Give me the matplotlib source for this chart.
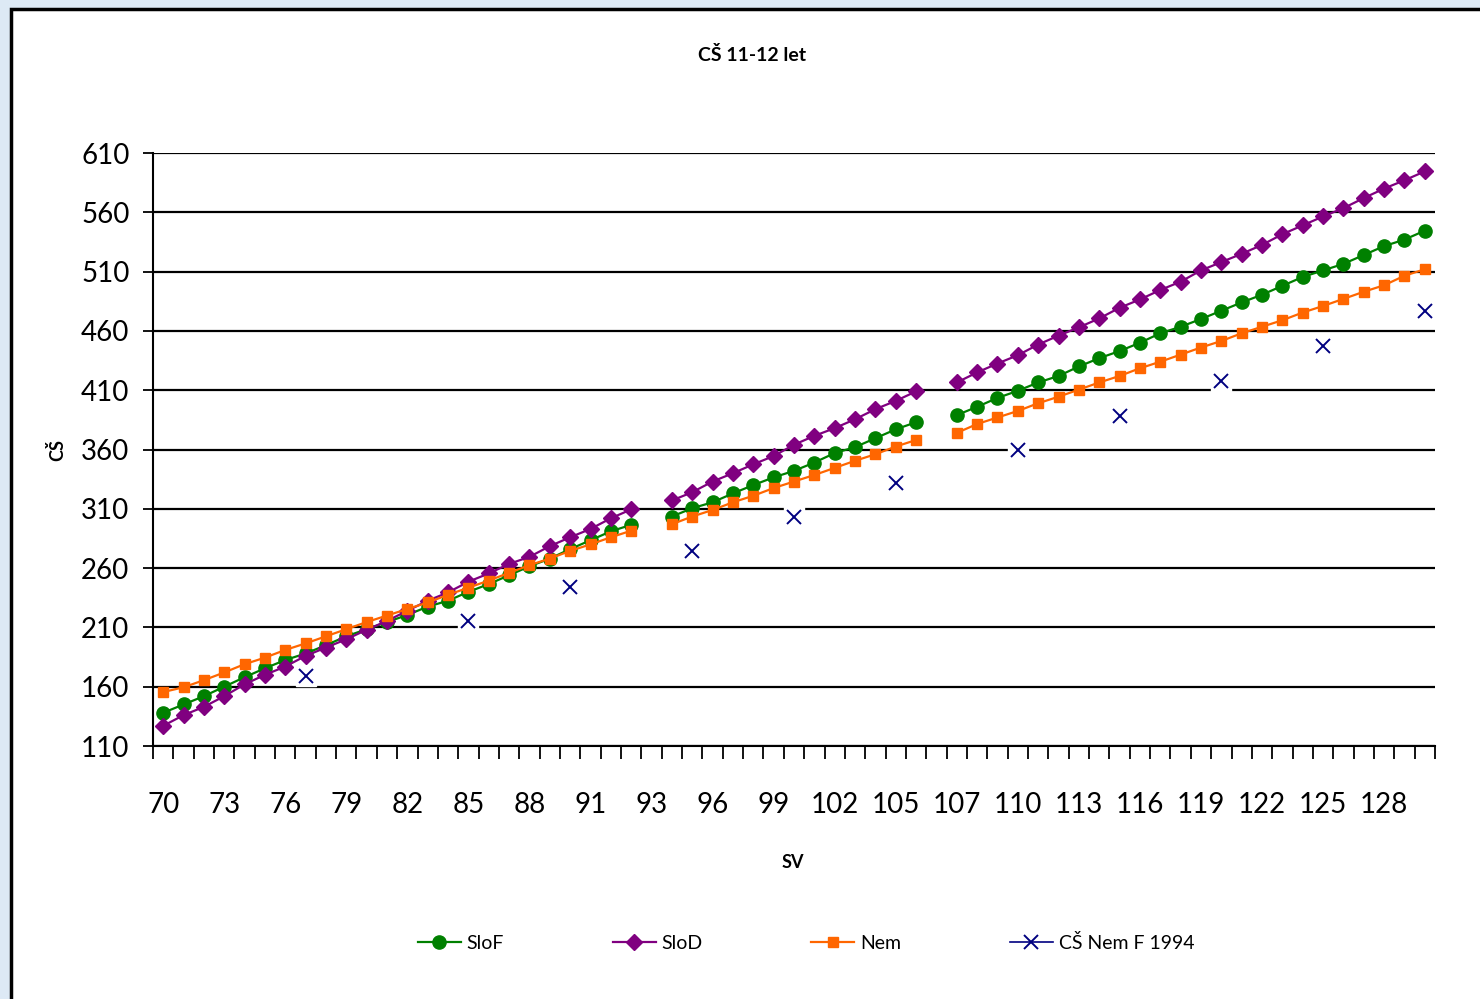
import numpy as np
import matplotlib
matplotlib.use("Agg")
import matplotlib.pyplot as plt
from matplotlib.patches import Rectangle
from matplotlib.ticker import FixedLocator, NullFormatter

plt.rcParams['font.family'] = ['Lato', 'DejaVu Sans']

# ---- data ----
categories = ['70', '71', '72', '73', '74', '75', '76', '77', '78', '79', '80', '81',
              '82', '83', '84', '85', '86', '87', '88', '89', '90', '91', '92', '93',
              '93', '94', '95', '96', '97', '98', '99', '100', '101', '102', '103', '104',
              '105', '106', '107', '107', '108', '109', '110', '111', '112', '113', '114', '115',
              '116', '117', '118', '119', '120', '121', '122', '123', '124', '125', '126', '127',
              '128', '129', '130']
label_every = 3

N = None
slof = [138, 145, 152, 160, 168, 175.5, 182.5, 188, 195, 202.5, 208.5, 214.5,
        220.5, 227.5, 232.5, 240, 246.5, 254, 261.5, 268, 276, 283.5, 291, 296.5,
        N, 303.5, 310.5, 315.5, 323, 330, 336.5, 342, 349, 357, 362, 369.5,
        377, 383, N, 389, 396, 403.5, 409.5, 416.5, 422, 430, 437, 443,
        450, 458, 463.5, 470, 477, 484, 490.5, 498, 505.5, 511, 516.5, 524,
        531.5, 537, 544.5]
slod = [127, 136, 143, 152, 162, 170, 177, 186, 193, 200, 208, 215.5,
        224, 232.5, 239.5, 248.5, 255.5, 263.5, 269.5, 278.5, 286, 293, 302, 309.5,
        N, 317, 324, 333, 340, 347.5, 354.5, 364, 371.5, 378, 385.5, 394,
        401, 409, N, 416.5, 425, 432.5, 439.5, 448.5, 456, 463, 470.5, 479.5,
        486.5, 494.5, 501.5, 511, 518, 525, 532.5, 541.5, 549, 556.5, 563.5, 572,
        580, 587, 594.5]
nem = [155.5, 159.5, 165.5, 172, 179, 184.5, 191, 196.5, 202.5, 208.5, 214.5, 220,
       225.5, 231, 237.5, 243.5, 249.5, 256, 262.5, 268, 274.5, 280, 286, 291.5,
       N, 297, 303.5, 309, 315.5, 321, 327.5, 333, 338.5, 344.5, 350.5, 356,
       362.5, 368, N, 374, 381.5, 387, 392.5, 399, 404.5, 410.5, 416.5, 422,
       428.5, 434, 440, 446, 451.5, 458, 463.5, 469, 475.5, 481, 487, 493,
       498.5, 506.5, 512]
cs_nem_f_1994 = [N] * 63
cs_points = {7: 169, 15: 215.5, 20: 244, 26: 274, 31: 303.5, 36: 331.5,
             42: 360, 47: 388, 52: 418, 57: 447, 62: 476.5}
for k, v in cs_points.items():
    cs_nem_f_1994[k] = v

yticks = [110, 160, 210, 260, 310, 360, 410, 460, 510, 560, 610]

title = 'CŠ 11-12 let'
xlabel = 'SV'
ylabel = 'CŠ'
series_names = ['SloF', 'SloD', 'Nem', 'CŠ Nem F 1994']

# ---- figure ----
W, H = 1480, 999
fig = plt.figure(figsize=(W / 100, H / 100), dpi=100)
fig.patch.set_facecolor('#dde9f5')
# chart area (white box with border, runs off right/bottom edge)
fig.patches.append(Rectangle((11 / W, -0.5), 1.5, 1.5 - 9 / H, transform=fig.transFigure,
                             facecolor='white', edgecolor='black', linewidth=2.5,
                             zorder=-10))

ax = fig.add_axes([153 / W, 1 - 746 / H, (1435 - 153) / W, (746 - 153) / H])
ax.set_zorder(1)
ax.set_facecolor('white')

x = np.arange(len(categories))
def arr(v):
    return np.array([np.nan if t is None else t for t in v], dtype=float)

ax.plot(x, arr(slof), color='#008000', lw=1.6, marker='o', ms=9.5, mec='#008000',
        mfc='#008000', label=series_names[0], zorder=4)
ax.plot(x, arr(slod), color='#800080', lw=1.6, marker='D', ms=8.5, mec='#800080',
        mfc='#800080', label=series_names[1], zorder=5)
ax.plot(x, arr(nem), color='#ff6600', lw=1.6, marker='s', ms=7, mec='#ff6600',
        mfc='#ff6600', label=series_names[2], zorder=6)
# white background behind x markers (as in Excel)
ax.plot(x, arr(cs_nem_f_1994), ls='none', marker='s', ms=14, mfc='white', mec='white',
        zorder=3)
ax.plot(x, arr(cs_nem_f_1994), color='#000080', lw=1.2, marker='x', ms=10, mew=1.4,
        label=series_names[3], zorder=7)

ax.set_xlim(-0.5, len(categories) - 0.5)
ax.set_ylim(110, 610)

# y axis
ax.set_yticks(yticks)
ax.set_yticklabels([str(t) for t in yticks], fontsize=20)
ax.tick_params(axis='y', direction='out', length=7, width=1.3, pad=10)
ax.yaxis.grid(True, color='black', lw=1.6)
ax.set_axisbelow(True)

# x axis: labels every 3rd category, tick marks between categories
major = list(range(0, len(categories), label_every))
ax.set_xticks(major)
ax.set_xticklabels([categories[i] for i in major], fontsize=20)
ax.tick_params(axis='x', which='major', length=0, pad=33)
ax.xaxis.set_minor_locator(FixedLocator(np.arange(-0.5, len(categories), 1.0)))
ax.xaxis.set_minor_formatter(NullFormatter())
ax.tick_params(axis='x', which='minor', direction='out', length=9, width=1.3)

for s in ['top', 'right']:
    ax.spines[s].set_visible(False)
ax.spines['left'].set_linewidth(1.5)
ax.spines['bottom'].set_linewidth(1.5)

fig.text(752 / W, 1 - 55 / H, title, ha='center', va='center', fontsize=14,
         fontweight='bold')
fig.text(793 / W, 1 - 862 / H, xlabel, ha='center', va='center', fontsize=13,
         fontweight='bold')
fig.text(57 / W, 1 - 450 / H, ylabel, ha='center', va='center', fontsize=13,
         fontweight='bold', rotation=90)

leg = fig.legend(loc='center', bbox_to_anchor=(806 / W, 1 - 943 / H), ncol=4,
                 frameon=False, fontsize=14, columnspacing=5.6, handlelength=2.2,
                 handletextpad=0.3)

fig.savefig('out.png', dpi=100, facecolor=fig.get_facecolor())
